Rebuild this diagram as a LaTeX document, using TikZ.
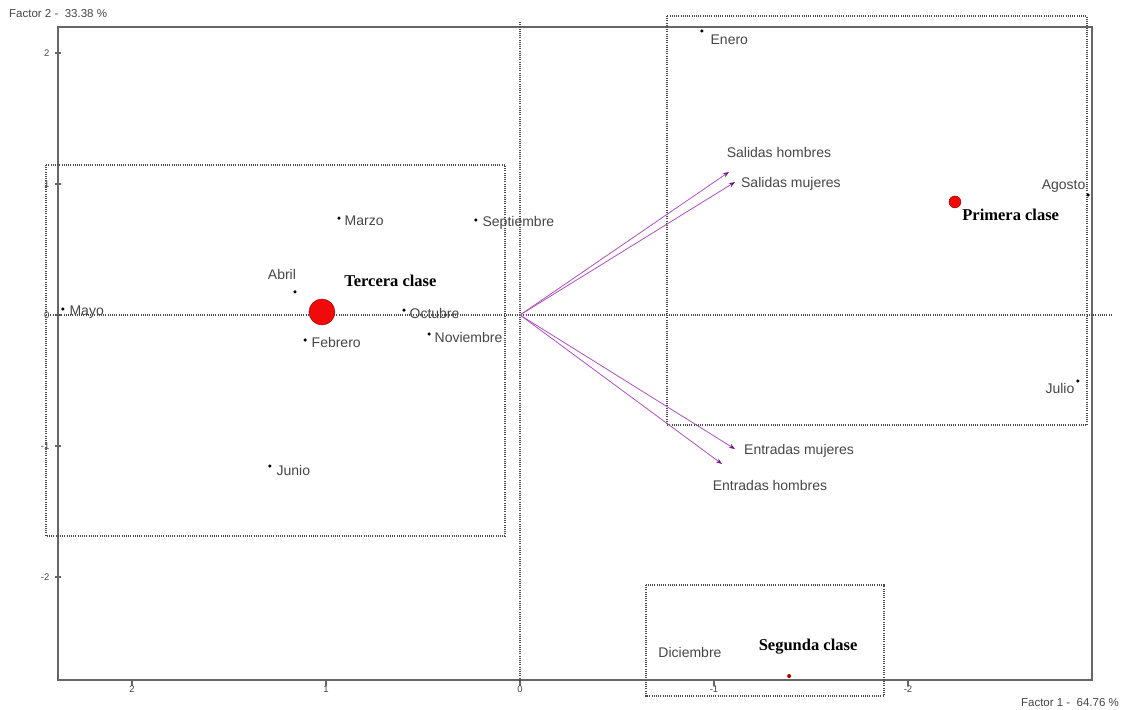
\documentclass[tikz,border=0pt]{standalone}
\usepackage{fontspec}
\setmainfont{Liberation Serif}
\setsansfont{Liberation Sans}
\usepackage{tikz,pgffor}
\usetikzlibrary{arrows.meta}
\usetikzlibrary{positioning}
\definecolor{texto}{RGB}{70,70,70}
\definecolor{vector}{RGB}{175,80,195}
\definecolor{punta}{RGB}{110,25,135}
\definecolor{rojo}{RGB}{240,10,10}
\tikzstyle{punto}  = [
    shape=circle,
    fill=black,
    inner sep=0pt,
    minimum size=3.5pt
]
\tikzstyle{centro} = [
    shape=circle,
    draw=red!55!black,
    fill=rojo,
    inner sep=0pt
]
\tikzstyle{mes}    = [
    font=\sffamily\fontsize{14}{14}\selectfont,
    text=texto,
    inner sep=0pt
]
\tikzstyle{clase}  = [
    font=\rmfamily\bfseries\fontsize{16.5}{16.5}\selectfont,
    inner sep=0pt
]
\tikzstyle{num}    = [
    font=\sffamily\fontsize{9.5}{9.5}\selectfont,
    text=texto,
    inner sep=0pt
]
\tikzstyle{vec}    = [
    draw=vector,
    line width=0.8pt,
    -{Stealth[length=6pt,width=4.5pt,color=punta]}
]
\tikzstyle{caja}   = [
    draw=black!70,
    line width=1.4pt,
    dash pattern=on 1pt off 1.2pt
]
\tikzstyle{marco}  = [
    draw=black!60,
    line width=1.4pt
]

\begin{document}
\begin{tikzpicture}[x = {(-194pt,0pt)}, y = {(0pt,131pt)}]
\useasboundingbox (2.6804,2.4046) rectangle (-3.0979,-3.0076);

\draw[marco] (2.381,2.198) rectangle (-2.948,-2.786);
\foreach \t in {-2,...,2} {
  \draw[marco] (\t,-2.786) -- (\t,-2.832);
  \node[num, anchor=north] (nx\t) at (\t,-2.830) {\t};
  \draw[marco] (2.397,\t) -- (2.366,\t);
  \node[num, anchor=east]  (ny\t) at (2.425,\t) {\t};
}

\draw[caja] (2.443,0) -- (-3.057,0);
\draw[caja] (0,2.237) -- (0,-2.786);
\draw[caja] (2.443,1.145) rectangle (0.077,-1.687);
\draw[caja] (-0.758,2.282) rectangle (-2.923,-0.840);
\draw[caja] (-0.649,-2.061) rectangle (-1.876,-2.908);

\node[mes, font=\sffamily\fontsize{11.5}{11.5}\selectfont, anchor=west] (f2) at (2.634,2.305) {Factor 2 -\ \ 33.38 \%};
\node[mes, font=\sffamily\fontsize{11.5}{11.5}\selectfont, anchor=east] (f1) at (-3.088,-2.962) {Factor 1 -\ \ 64.76 \%};

\coordinate (o)  at (0,0);
\coordinate (sh) at (-1.077,1.092);
\coordinate (sm) at (-1.108,1.015);
\coordinate (em) at (-1.108,-1.023);
\coordinate (eh) at (-1.041,-1.137);

\draw[vec] (o) -- (sh);
\draw[vec] (o) -- (sm);
\draw[vec] (o) -- (em);
\draw[vec] (o) -- (eh);

\node[mes, above=14pt of sh, xshift=50pt] (sh-t) {Salidas hombres};
\node[mes, right=6pt of sm, yshift=-2pt]  (sm-t) {Salidas mujeres};
\node[mes, right=9pt of em, yshift=-2pt]  (em-t) {Entradas mujeres};
\node[mes, below=16pt of eh, xshift=48pt] (eh-t) {Entradas hombres};

\node[punto] (enero)      at (-0.938,2.168)  {};
\node[punto] (febrero)    at (1.108,-0.191)  {};
\node[punto] (marzo)      at (0.933,0.740)   {};
\node[punto] (abril)      at (1.160,0.176)   {};
\node[punto] (mayo)       at (2.356,0.046)   {};
\node[punto] (junio)      at (1.289,-1.153)  {};
\node[punto] (julio)      at (-2.876,-0.504) {};
\node[punto] (agosto)     at (-2.928,0.916)  {};
\node[punto] (septiembre) at (0.227,0.725)   {};
\node[punto] (octubre)    at (0.598,0.038)   {};
\node[punto] (noviembre)  at (0.469,-0.145)  {};

\node[mes, right=6.5pt of enero, yshift=-9pt]    (enero-t)      {Enero};
\node[mes, right=4.5pt of febrero, yshift=-2pt]  (febrero-t)    {Febrero};
\node[mes, right=3.5pt of marzo, yshift=-3pt]    (marzo-t)      {Marzo};
\node[mes, above=10pt of abril, xshift=-13pt]    (abril-t)      {Abril};
\node[mes, right=4.5pt of mayo, yshift=-3pt]     (mayo-t)       {Mayo};
\node[mes, right=4.5pt of junio, yshift=-4pt]    (junio-t)      {Junio};
\node[mes, left=1.5pt of julio, yshift=-7pt]     (julio-t)      {Julio};
\node[mes, left=0.5pt of agosto, yshift=9pt]     (agosto-t)     {Agosto};
\node[mes, right=4.5pt of septiembre, yshift=-3pt] (septiembre-t) {Septiembre};
\node[mes, right=3.5pt of octubre, yshift=-3pt]  (octubre-t)    {Octubre};
\node[mes, right=3.5pt of noviembre, yshift=-3pt] (noviembre-t) {Noviembre};
\node[mes]                                       (diciembre-t)  at (-0.876,-2.573) {Diciembre};

\node[centro, minimum size=12pt] (primera) at (-2.242,0.863)  {};
\node[centro, minimum size=26pt] (tercera) at (1.021,0.023)   {};
\node[centro, minimum size=4pt, fill=red!70!black, draw=none] (segunda) at (-1.387,-2.756) {};

\node[clase, right=1pt of primera, yshift=-13pt] (primera-t) {Primera clase};
\node[clase, right=9pt of tercera, yshift=31pt]  (tercera-t) {Tercera clase};
\node[clase, above=20pt of segunda, xshift=19pt] (segunda-t) {Segunda clase};

\end{tikzpicture}
\end{document}
